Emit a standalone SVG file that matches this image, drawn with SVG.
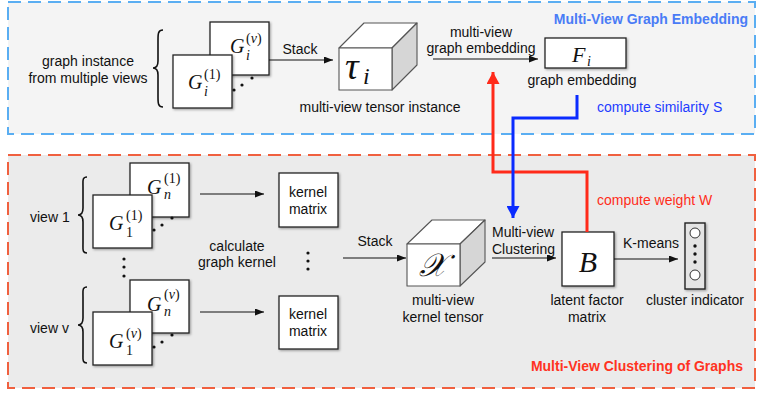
<svg xmlns="http://www.w3.org/2000/svg" width="759" height="396" viewBox="0 0 759 396">
  <style>
    .t { font-family: "Liberation Sans", Arial, sans-serif; font-size: 14px; fill: #111; }
    .c { text-anchor: middle; }
    .title { font-family: "Liberation Sans", Arial, sans-serif; font-size: 14px; font-weight: bold; text-anchor: end; }
    .m { font-family: "Liberation Serif", "Times New Roman", serif; font-style: italic; fill: #111; }
    .g { font-size: 20px; }
    .s { font-family: "Liberation Serif", "Times New Roman", serif; font-size: 14px; fill: #111; }
    .si { font-family: "Liberation Serif", "Times New Roman", serif; font-style: italic; font-size: 14px; fill: #111; }
    .box { fill: #fff; stroke: #222; stroke-width: 1.3; filter: url(#sh); }
    .edge { stroke: #111; stroke-width: 1.2; fill: none; }
    .brace { stroke: #111; stroke-width: 1.6; fill: none; }
    .dot { fill: #111; }
    .cube { stroke: #555; stroke-width: 1.1; stroke-linejoin: round; }
  </style>
  <defs>
    <filter id="sh" x="-10%" y="-10%" width="130%" height="130%">
      <feDropShadow dx="1.2" dy="1.2" stdDeviation="0.8" flood-color="#000" flood-opacity="0.35"/>
    </filter>
    <marker id="ah" markerWidth="9" markerHeight="7" refX="9" refY="3.5" orient="auto" markerUnits="userSpaceOnUse">
      <path d="M0,0 L9,3.5 L0,7 z" fill="#111"/>
    </marker>
    <marker id="ahRed" markerWidth="12" markerHeight="13" refX="12" refY="6.5" orient="auto" markerUnits="userSpaceOnUse">
      <path d="M0,0 L12,6.5 L0,13 z" fill="#ff2a1a"/>
    </marker>
    <marker id="ahBlue" markerWidth="12" markerHeight="13" refX="12" refY="6.5" orient="auto" markerUnits="userSpaceOnUse">
      <path d="M0,0 L12,6.5 L0,13 z" fill="#0a2bff"/>
    </marker>
  </defs>

  <rect width="759" height="396" fill="#fff"/>

  <!-- section frames -->
  <g id="embedding-section">
    <rect x="8" y="2" width="747" height="132" fill="#f4f4f4" stroke="#5aaef2" stroke-width="2" stroke-dasharray="13,7"/>
    <text class="title" x="748" y="24" fill="#4a7cf6">Multi-View Graph Embedding</text>
  </g>
  <g id="clustering-section">
    <rect x="8" y="155" width="747" height="233" fill="#ebebeb" stroke="#f0603f" stroke-width="2" stroke-dasharray="13,7"/>
    <text class="title" x="743" y="371" fill="#ff3322">Multi-View Clustering of Graphs</text>
  </g>

  <!-- top: graph instance from multiple views -->
  <g id="graph-instance">
    <text class="t c" x="88" y="66">graph instance</text>
    <text class="t c" x="88" y="83">from multiple views</text>
    <path class="brace" d="M163,30 C158,30 158,34 158,40 L158,61 C158,66 156,68 153,68 C156,68 158,70 158,75 L158,97 C158,103 158,107 163,107"/>
    <rect class="box" x="210" y="22" width="59" height="53"/>
    <text class="m g" x="230" y="53">G</text>
    <text class="s" x="246" y="43">(<tspan font-style="italic">v</tspan>)</text>
    <text class="si" x="246" y="60">i</text>
    <rect class="box" x="173" y="55" width="59" height="53"/>
    <text class="m g" x="188" y="89">G</text>
    <text class="s" x="204" y="79">(1)</text>
    <text class="si" x="204" y="96">i</text>
    <circle class="dot" cx="234" cy="90" r="1.6"/>
    <circle class="dot" cx="242" cy="85" r="1.6"/>
    <circle class="dot" cx="252" cy="78" r="1.6"/>
  </g>

  <!-- tensor instance cube -->
  <g id="tensor-instance">
    <polygon class="cube" points="339,48 364,23 417,23 392,48" fill="#fff"/>
    <polygon class="cube" points="392,48 417,23 417,65 392,90" fill="#d6d6d6"/>
    <rect class="cube" x="339" y="48" width="53" height="42" fill="#fff"/>
    <text class="m" x="345" y="79" font-size="38">τ</text>
    <text class="m" x="363" y="84" font-size="24">i</text>
    <text class="t c" x="380" y="112">multi-view tensor instance</text>
  </g>

  <!-- graph embedding F_i -->
  <g id="graph-embedding">
    <rect class="box" x="545" y="38" width="81" height="30"/>
    <text class="m" x="572" y="62" font-size="22">F</text>
    <text class="si" x="587" y="66" font-size="15">i</text>
    <text class="t c" x="582" y="85">graph embedding</text>
  </g>

  <!-- bottom: view 1 graphs -->
  <g id="view-1">
    <text class="t" x="30" y="222">view 1</text>
    <path class="brace" d="M87,177 C82,177 83,181 83,187 L83,208 C83,213 81,215 78,215 C81,215 83,217 83,222 L83,243 C83,249 82,253 87,253"/>
    <rect class="box" x="130" y="163" width="59" height="54"/>
    <text class="m g" x="147" y="194">G</text>
    <text class="s" x="164" y="183">(1)</text>
    <text class="si" x="164" y="199">n</text>
    <rect class="box" x="93" y="195" width="59" height="53"/>
    <text class="m g" x="109" y="230">G</text>
    <text class="s" x="126" y="220">(1)</text>
    <text class="s" x="126" y="237">1</text>
    <circle class="dot" cx="154" cy="230" r="1.6"/>
    <circle class="dot" cx="162" cy="225" r="1.6"/>
    <circle class="dot" cx="172" cy="218" r="1.6"/>
  </g>

  <g id="view-dots">
    <circle class="dot" cx="124" cy="259" r="1.6"/>
    <circle class="dot" cx="124" cy="267" r="1.6"/>
    <circle class="dot" cx="124" cy="276" r="1.6"/>
  </g>

  <!-- bottom: view v graphs -->
  <g id="view-v">
    <text class="t" x="30" y="333">view v</text>
    <path class="brace" d="M87,287 C82,287 83,291 83,297 L83,318 C83,323 81,325 78,325 C81,325 83,327 83,332 L83,353 C83,359 82,363 87,363"/>
    <rect class="box" x="130" y="280" width="59" height="53"/>
    <text class="m g" x="147" y="311">G</text>
    <text class="s" x="164" y="299">(<tspan font-style="italic">v</tspan>)</text>
    <text class="si" x="164" y="316">n</text>
    <rect class="box" x="93" y="312" width="59" height="53"/>
    <text class="m g" x="109" y="348">G</text>
    <text class="s" x="126" y="338">(<tspan font-style="italic">v</tspan>)</text>
    <text class="s" x="126" y="355">1</text>
    <circle class="dot" cx="154" cy="347" r="1.6"/>
    <circle class="dot" cx="162" cy="342" r="1.6"/>
    <circle class="dot" cx="172" cy="335" r="1.6"/>
  </g>

  <!-- kernel matrices -->
  <g id="kernel-matrix-1">
    <rect class="box" x="279" y="173" width="59" height="54"/>
    <text class="t c" x="308" y="197">kernel</text>
    <text class="t c" x="308" y="214">matrix</text>
  </g>
  <g id="kernel-matrix-v">
    <rect class="box" x="279" y="296" width="59" height="53"/>
    <text class="t c" x="308" y="319">kernel</text>
    <text class="t c" x="308" y="336">matrix</text>
  </g>
  <g id="kernel-dots">
    <circle class="dot" cx="308" cy="253" r="1.6"/>
    <circle class="dot" cx="308" cy="261" r="1.6"/>
    <circle class="dot" cx="308" cy="269" r="1.6"/>
  </g>
  <g id="calc-label">
    <text class="t c" x="237" y="251">calculate</text>
    <text class="t c" x="237" y="267">graph kernel</text>
  </g>

  <!-- kernel tensor cube -->
  <g id="kernel-tensor">
    <polygon class="cube" points="407,244 432,220 485,220 460,244" fill="#fff"/>
    <polygon class="cube" points="460,244 485,220 485,262 460,286" fill="#d6d6d6"/>
    <rect class="cube" x="407" y="244" width="53" height="42" fill="#fff"/>
    <text class="m" x="433" y="276" font-size="32" text-anchor="middle">𝒳</text>
    <text class="t c" x="443" y="305">multi-view</text>
    <text class="t c" x="443" y="322">kernel tensor</text>
  </g>

  <!-- latent factor matrix B -->
  <g id="latent-factor">
    <rect class="box" x="562" y="232" width="52" height="54"/>
    <text class="m" x="588" y="272" font-size="30" text-anchor="middle">B</text>
    <text class="t c" x="587" y="305">latent factor</text>
    <text class="t c" x="587" y="322">matrix</text>
  </g>

  <!-- cluster indicator -->
  <g id="cluster-indicator">
    <rect x="685" y="223" width="20" height="66" fill="#e4e4e4" stroke="#222" stroke-width="1.4" filter="url(#sh)"/>
    <circle cx="695" cy="233" r="5" fill="#fff" stroke="#333" stroke-width="1"/>
    <circle class="dot" cx="695" cy="246" r="1.7"/>
    <circle class="dot" cx="695" cy="254" r="1.7"/>
    <circle class="dot" cx="695" cy="262" r="1.7"/>
    <circle cx="695" cy="275" r="5" fill="#fff" stroke="#333" stroke-width="1"/>
    <text class="t c" x="695" y="305">cluster indicator</text>
  </g>

  <!-- connectors -->
  <g id="connectors">
    <line class="edge" x1="269" y1="60" x2="333" y2="60" marker-end="url(#ah)"/>
    <text class="t c" x="300" y="54">Stack</text>

    <line class="edge" x1="433" y1="59" x2="538" y2="59" marker-end="url(#ah)"/>
    <text class="t c" x="481" y="37">multi-view</text>
    <text class="t c" x="481" y="53">graph embedding</text>

    <line class="edge" x1="200" y1="194" x2="264" y2="194" marker-end="url(#ah)"/>
    <line class="edge" x1="200" y1="312" x2="264" y2="312" marker-end="url(#ah)"/>

    <line class="edge" x1="343" y1="258" x2="406" y2="258" marker-end="url(#ah)"/>
    <text class="t c" x="375" y="246">Stack</text>

    <line class="edge" x1="492" y1="258" x2="556" y2="258" marker-end="url(#ah)"/>
    <text class="t" x="492" y="237">Multi-view</text>
    <text class="t" x="492" y="254">Clustering</text>

    <line class="edge" x1="614" y1="259" x2="678" y2="259" marker-end="url(#ah)"/>
    <text class="t c" x="651" y="248">K-means</text>

    <!-- weight feedback from B up to the embedding arrow -->
    <polyline points="587,232 587,172 493,172 493,72" fill="none" stroke="#ff2a1a" stroke-width="3" marker-end="url(#ahRed)"/>
    <text class="t" x="597" y="205" style="fill:#ff2d1a">compute weight W</text>

    <!-- similarity from embedding down to clustering arrow -->
    <polyline points="577,95 577,118 513,118 513,218" fill="none" stroke="#0a2bff" stroke-width="3" marker-end="url(#ahBlue)"/>
    <text class="t" x="597" y="112" style="fill:#1e3cff">compute similarity S</text>
  </g>
</svg>
